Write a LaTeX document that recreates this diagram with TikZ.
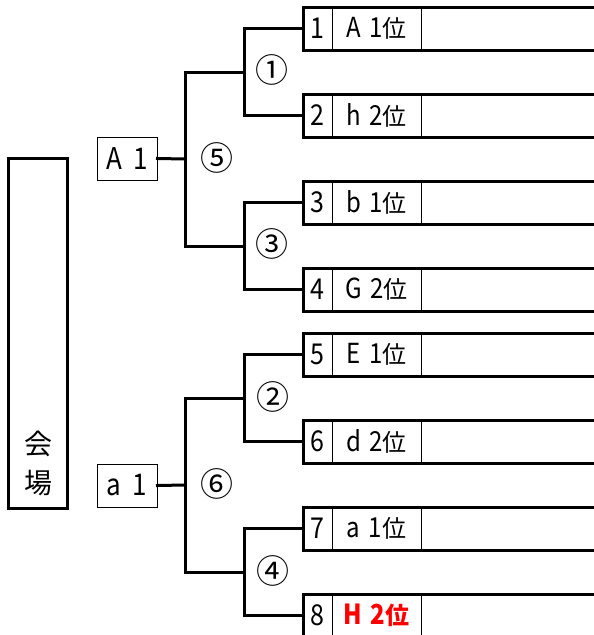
\documentclass[tikz,border=0pt]{standalone}
\usepackage{fontspec}
\setmainfont{Noto Sans CJK JP}
\newcommand{\tallx}[1]{\scalebox{1}[1.15]{#1}}
\begin{document}
\begin{tikzpicture}[x=1pt,y=-1pt,
  thk/.style={line width=3pt, line join=miter, line cap=rect},
  thn/.style={line width=1pt},
  numcell/.style={inner sep=0pt, minimum width=29pt, minimum height=43pt, font=\fontsize{25}{25}\selectfont},
  namecell/.style={inner sep=0pt, minimum width=89pt, minimum height=43pt, font=\fontsize{24}{24}\selectfont},
  circ/.style={inner sep=0pt, font=\fontsize{33}{33}\selectfont},
  seed/.style={draw, line width=1pt, inner sep=0pt, minimum width=60pt, minimum height=43pt, font=\fontsize{26}{26}\selectfont},
  venue/.style={draw, line width=3pt, inner sep=0pt, minimum width=59pt, minimum height=350pt}
]
\useasboundingbox (0,0) rectangle (594,635);

% slots
\foreach \i/\t/\lab in {1/7/{\tallx{A\hspace{0.35em}1}位},2/94/{\tallx{h\hspace{0.35em}2}位},3/181/{\tallx{b\hspace{0.35em}1}位},4/268/{\tallx{G\hspace{0.35em}2}位},5/333/{\tallx{E\hspace{0.35em}1}位},6/420/{\tallx{d\hspace{0.35em}2}位},7/507/{\tallx{a\hspace{0.35em}1}位},8/594/{\color{red}\bfseries \tallx{H\hspace{0.35em}2}位}}
{
  \node[numcell] (n\i) at (317.5,{\t+21.5}) {\tallx{\i}};
  \node[namecell] (m\i) at (376.5,{\t+21.5}) {\lab};
  \draw[thk] (594,\t) -- (303,\t) -- (303,{\t+43}) -- (594,{\t+43});
  \draw[thn] (332,\t) -- (332,{\t+43}) (421,\t) -- (421,{\t+43});
}

% junctions
\coordinate (j1) at (244,72);
\coordinate (j3) at (244,246);
\coordinate (j2) at (244,398);
\coordinate (j4) at (244,572);
\coordinate (j5) at (185,159);
\coordinate (j6) at (185,485);

\draw[thk] (n1.west) -| (j1) |- (n2.west);
\draw[thk] (n3.west) -| (j3) |- (n4.west);
\draw[thk] (n5.west) -| (j2) |- (n6.west);
\draw[thk] (n7.west) -| (j4) |- (n8.west);
\draw[thk] (j1) -| (j5) |- (j3);
\draw[thk] (j2) -| (j6) |- (j4);

\node[circ] (c1) at (272,70) {①};
\node[circ] (c3) at (272,244) {③};
\node[circ] (c2) at (273,397) {②};
\node[circ] (c4) at (273,571) {④};
\node[circ] (c5) at (217,158) {⑤};
\node[circ] (c6) at (217,484) {⑥};

\node[seed] (A1) at (127,158.5) {\tallx{A\hspace{0.45em}1}};
\node[seed] (a1) at (127,485.5) {\tallx{a\hspace{0.45em}1}};
\draw[thk] (A1.east) -- (j5);
\draw[thk] (a1.east) -- (j6);

\node[venue] (v) at (37.5,333) {};
\node[font=\fontsize{28}{28}\selectfont, inner sep=0pt] (v1) at (38,444) {会};
\node[font=\fontsize{28}{28}\selectfont, inner sep=0pt] (v2) at (38,483) {場};
\end{tikzpicture}
\end{document}
